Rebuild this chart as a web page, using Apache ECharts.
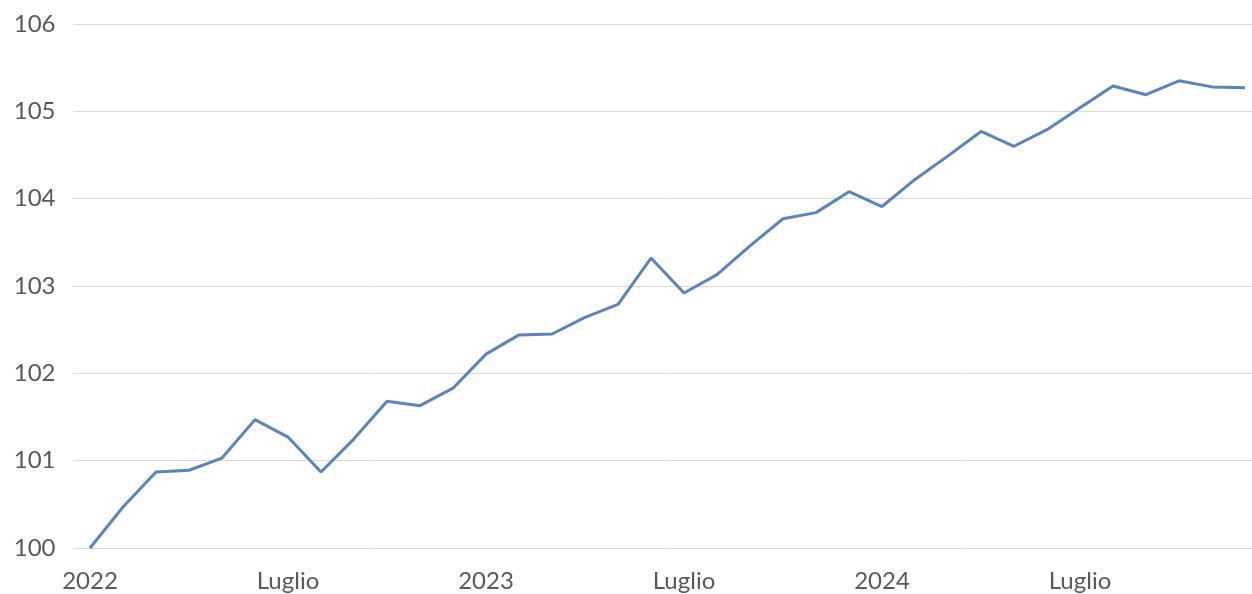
<!DOCTYPE html>
<html>
<head>
<meta charset="utf-8">
<script src="https://cdn.jsdelivr.net/npm/echarts@6/dist/echarts.min.js"></script>
<style>
  html, body { margin: 0; padding: 0; background: #fff; overflow: hidden; }
  #chart { width: 1262px; height: 594px; }
</style>
</head>
<body>
<div id="chart"></div>
<script>
// mesi gen 2022 - dic 2024
const months = [
  '2022-01','2022-02','2022-03','2022-04','2022-05','2022-06','2022-07','2022-08','2022-09','2022-10','2022-11','2022-12',
  '2023-01','2023-02','2023-03','2023-04','2023-05','2023-06','2023-07','2023-08','2023-09','2023-10','2023-11','2023-12',
  '2024-01','2024-02','2024-03','2024-04','2024-05','2024-06','2024-07','2024-08','2024-09','2024-10','2024-11','2024-12'
];
// indice (base 100)
const values = [
  100.00, 100.47, 100.87, 100.89, 101.03, 101.47, 101.27, 100.87, 101.25, 101.68, 101.63, 101.83,
  102.22, 102.44, 102.45, 102.64, 102.79, 103.32, 102.92, 103.13, 103.46, 103.77, 103.84, 104.08,
  103.91, 104.22, 104.49, 104.77, 104.60, 104.79, 105.04, 105.29, 105.19, 105.35, 105.28, 105.27
];
// etichette asse x (ogni 6 mesi)
const tickLabels = {
  '2022-01': '2022', '2022-07': 'Luglio',
  '2023-01': '2023', '2023-07': 'Luglio',
  '2024-01': '2024', '2024-07': 'Luglio'
};
const yMin = 100, yMax = 106, yStep = 1;

const chart = echarts.init(document.getElementById('chart'));
chart.setOption({
  animation: false,
  // il div è più largo della pagina: l'ultima banda esce a destra come nell'originale
  grid: { left: 73.5, right: 0.5, top: 24, bottom: 46, containLabel: false },
  xAxis: {
    type: 'category',
    data: months,
    boundaryGap: true,
    axisLine: { show: false },
    axisTick: { show: false },
    axisLabel: {
      interval: 5,
      margin: 21,
      color: '#595959',
      fontFamily: 'Lato',
      fontSize: 24,
      formatter: function (v) { return tickLabels[v] || ''; }
    }
  },
  yAxis: {
    type: 'value',
    min: yMin,
    max: yMax,
    interval: yStep,
    axisLine: { show: false },
    axisTick: { show: false },
    axisLabel: {
      margin: 18,
      color: '#595959',
      fontFamily: 'Lato',
      fontSize: 24
    },
    splitLine: { lineStyle: { color: '#d9d9d9', width: 1 } }
  },
  series: [{
    type: 'line',
    data: values,
    symbol: 'none',
    lineStyle: { color: '#5b84bb', width: 3 }
  }]
});
</script>
</body>
</html>
